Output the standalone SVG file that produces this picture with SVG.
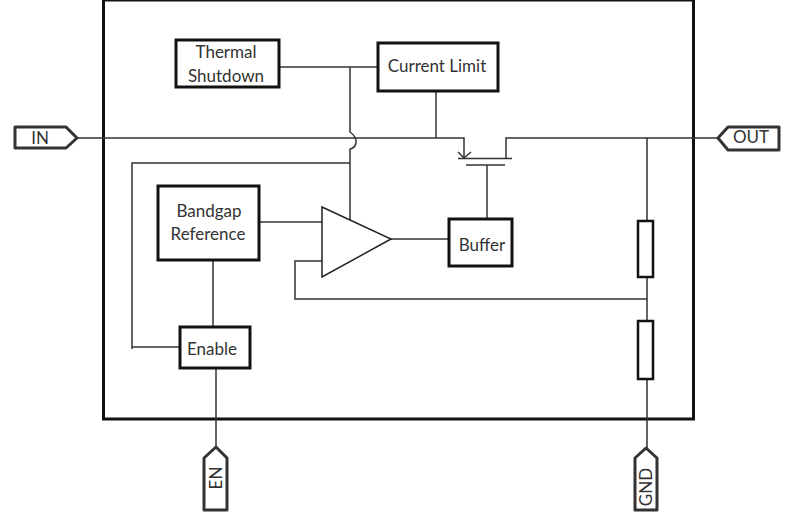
<svg xmlns="http://www.w3.org/2000/svg" width="788" height="516" viewBox="0 0 788 516">
<style>
.box{fill:#fff;stroke:#111;stroke-width:3}
.pin{fill:#fff;stroke:#333;stroke-width:3;stroke-linejoin:round}
.w{fill:none;stroke:#333;stroke-width:1.500}
.res{fill:#fff;stroke:#111;stroke-width:2.500}
text{font-family:Lato,"Liberation Sans",sans-serif;font-size:17px;fill:#333;text-anchor:middle}
</style>
<rect width="788" height="516" fill="#fff"/>
<g id="frame"><rect x="103.500" y="0" width="590" height="419" fill="#fff" stroke="#111" stroke-width="3"/></g>
<g id="connectors" class="w">
<path class="w" d="M77 138H464V158"/>
<path class="w" d="M458 152L464 158L471 152" />
<path class="w" d="M458 158.500H512"/>
<path class="w" d="M466 165H505"/>
<path class="w" d="M506 158V138H719"/>
<path class="w" d="M487 165V219"/>
<path class="w" d="M436 91V138"/>
<path class="w" d="M279 67H378"/>
<path class="w" d="M350 67V132Q357 137 356 143Q355 148 350 149V220"/>
<path class="w" d="M350 163H132V349"/>
<path class="w" d="M132 347H180"/>
<path class="w" d="M259 222H322"/>
<path class="w" d="M391 239H449"/>
<path class="w" d="M322 261H295V299H647"/>
<path class="w" d="M647 138V221M647 277V321M647 379V450"/>
<path class="w" d="M213 260V327M216 368V446"/>
</g>
<g id="thermal"><rect class="box" x="176" y="40" width="103" height="47"/><text x="226" y="58">Thermal</text><text x="226" y="82">Shutdown</text></g>
<g id="limit"><rect class="box" x="378" y="43" width="120" height="48"/><text x="437" y="72">Current Limit</text></g>
<g id="bandgap"><rect class="box" x="158" y="186" width="101" height="74"/><text x="209" y="217">Bandgap</text><text x="208" y="240">Reference</text></g>
<g id="enable"><rect class="box" x="180" y="327" width="70" height="41"/><text x="212" y="355">Enable</text></g>
<g id="buffer"><rect class="box" x="449" y="219" width="63" height="47"/><text x="482" y="251">Buffer</text></g>
<g id="amp"><path d="M322 207V277L391 239Z" fill="#fff" stroke="#222" stroke-width="1.500"/></g>
<g id="r1"><rect class="res" x="638" y="221" width="15" height="56"/></g>
<g id="r2"><rect class="res" x="638" y="321" width="15" height="58"/></g>
<g id="pin-in"><path class="pin" d="M15 127H66L77 138L66 148H15Z"/><text x="40" y="144">IN</text></g>
<g id="pin-out"><path class="pin" d="M779 127H728L718 138L728 150H779Z"/><text x="751" y="143">OUT</text></g>
<g id="pin-en"><path class="pin" d="M204 510V458L216 447L227 458V510Z"/><text transform="translate(222 478) rotate(-90)">EN</text></g>
<g id="pin-gnd"><path class="pin" d="M635 510V458L646 448L657 458V510Z"/><text transform="translate(652 487) rotate(-90)">GND</text></g>
</svg>
